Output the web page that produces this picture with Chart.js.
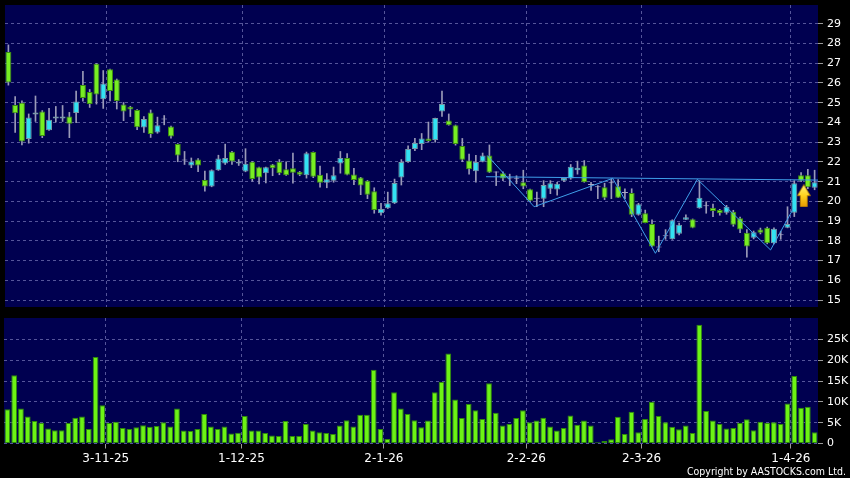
<!DOCTYPE html>
<html>
<head>
<meta charset="utf-8">
<script src="https://cdn.jsdelivr.net/npm/chart.js@4.4.1/dist/chart.umd.min.js"></script>
<style>
  html, body { margin: 0; padding: 0; background: #000; }
  #wrap { position: relative; width: 850px; height: 478px; overflow: hidden; }
  #priceBox { position: absolute; left: 0; top: 0; width: 850px; height: 312px; }
  #volBox { position: absolute; left: 0; top: 312px; width: 850px; height: 166px; }
</style>
</head>
<body>
<div id="wrap">
  <div id="priceBox"><canvas id="priceChart"></canvas></div>
  <div id="volBox"><canvas id="volChart"></canvas></div>
</div>
<script>
// daily bars, oldest first (index 0 .. 119)
const opens = [27.57,24.89,25.00,23.16,24.40,24.55,23.61,24.20,24.20,24.30,
  24.48,25.90,25.54,26.97,25.17,26.69,26.18,24.91,24.80,24.63,
  23.74,24.51,23.49,24.15,23.80,22.91,22.07,21.82,22.12,21.08,
  20.75,21.58,21.92,22.52,21.92,21.51,22.01,21.73,21.43,21.87,
  22.01,21.63,21.68,21.50,21.33,22.50,21.35,20.95,21.05,21.92,
  22.20,21.36,21.21,21.05,20.52,19.40,19.65,19.90,21.21,21.99,
  22.65,22.91,23.19,23.11,24.56,24.10,23.86,22.81,22.07,21.53,
  22.01,22.32,21.46,21.43,21.16,21.15,20.97,20.62,20.14,20.14,
  20.64,20.60,21.05,21.16,21.58,21.82,20.83,20.72,20.72,20.92,
  20.77,20.42,20.42,19.32,19.40,18.86,17.67,18.24,18.08,18.36,
  19.07,19.10,19.65,19.76,19.68,19.56,19.43,19.48,19.15,18.41,
  18.16,18.57,18.66,17.88,18.28,18.66,19.43,21.33,21.33,20.69];
const highs = [27.93,25.31,25.09,24.43,25.34,24.60,24.71,24.81,24.86,24.51,
  25.59,26.59,25.67,26.99,26.63,26.70,26.20,25.01,24.82,24.65,
  24.30,24.63,24.27,24.35,23.82,22.93,22.53,22.20,22.17,21.54,
  21.60,22.34,22.90,22.54,22.12,22.67,22.02,21.74,21.74,21.88,
  22.12,22.01,22.45,21.52,22.50,22.51,21.79,21.41,21.74,22.53,
  22.42,21.68,21.22,21.06,20.69,19.90,20.47,21.13,22.12,22.82,
  23.19,23.44,24.02,24.22,25.59,24.43,23.87,23.19,22.40,22.34,
  22.45,22.86,21.50,21.50,21.38,21.30,21.58,20.63,20.47,21.05,
  21.05,20.97,21.20,21.87,22.04,22.07,20.97,20.80,20.92,21.13,
  21.10,20.64,20.64,19.90,19.56,19.07,18.24,18.57,19.07,18.90,
  19.32,19.11,21.05,19.98,19.87,19.60,19.80,19.55,19.20,18.57,
  18.50,18.65,18.70,18.66,18.49,19.73,21.05,21.46,21.63,21.58];
const lows = [25.89,23.49,22.86,22.95,24.05,23.23,23.60,24.02,24.05,23.23,
  23.99,25.08,24.76,24.93,24.71,25.09,24.68,24.09,24.30,23.64,
  23.49,23.24,23.45,23.88,23.20,22.01,21.87,21.71,21.51,20.52,
  20.74,21.57,21.87,21.87,21.82,21.50,21.02,20.89,20.94,21.30,
  21.35,21.32,20.92,21.30,21.18,21.20,20.72,20.69,20.97,21.43,
  21.34,20.85,20.34,20.14,19.40,19.30,19.64,19.89,20.83,21.98,
  22.57,22.62,23.00,23.00,24.30,23.86,22.85,22.01,21.38,20.97,
  22.00,21.46,20.80,21.05,20.80,20.90,20.64,19.98,19.73,19.73,
  20.39,20.31,21.00,21.12,21.38,20.97,20.55,20.14,20.09,20.14,
  20.19,20.14,19.23,19.30,18.91,17.72,17.45,18.08,18.08,18.30,
  19.07,18.66,19.65,19.40,19.23,19.30,19.35,18.74,18.41,17.17,
  18.10,18.35,17.85,17.85,18.08,18.66,19.23,21.00,20.64,20.59];
const closes = [26.03,24.47,23.03,24.25,24.50,23.31,24.14,24.30,24.30,23.94,
  25.06,25.24,24.93,25.41,25.97,25.59,25.09,24.55,24.65,23.76,
  24.18,23.41,23.86,24.15,23.29,22.32,22.07,22.02,21.82,20.75,
  21.58,22.17,22.20,22.02,22.01,21.91,21.13,21.21,21.73,21.68,
  21.43,21.33,21.45,21.35,22.44,21.25,20.95,21.12,21.33,22.20,
  21.35,21.08,20.80,20.34,19.56,19.61,19.90,20.93,21.99,22.65,
  22.96,23.19,23.06,24.22,24.93,23.86,22.91,22.11,21.63,21.99,
  22.32,21.46,21.46,21.16,21.16,21.15,20.75,20.03,20.14,20.83,
  20.92,20.89,21.18,21.76,21.71,20.97,20.83,20.72,20.19,20.92,
  20.19,20.42,19.32,19.85,18.91,17.72,17.67,18.24,19.04,18.82,
  19.20,18.66,20.19,19.76,19.51,19.40,19.73,18.82,18.57,17.72,
  18.44,18.41,17.88,18.61,18.28,18.86,20.92,21.05,20.72,20.97];
const volumes = [8200,16400,8400,6500,5400,5000,3600,3200,3200,4900,
  6200,6500,3500,20800,9200,4900,5200,3700,3500,3900,
  4400,4000,4200,5100,4100,8400,3100,3000,3500,7100,
  4100,3500,4100,2400,2600,6600,3100,3100,2500,1900,
  1800,5400,1800,1800,4700,3100,2700,2500,2300,4300,
  5600,4100,6900,6900,17700,3500,1100,12300,8400,7100,
  5600,3900,5500,12300,14800,21600,10600,6100,9500,8000,
  5900,14500,7400,4300,4700,6100,8000,5100,5500,6200,
  4100,3100,3700,6700,4500,5500,4300,300,600,1000,
  6400,2300,7600,2700,5900,10000,6600,5100,4000,3400,
  4300,2500,28500,7800,5500,4700,3600,3700,4900,5800,
  3200,5200,4900,5100,4700,9600,16200,8600,8800,2700];

// month starts on the time axis (bar index) and their labels
const monthIdx = [15, 35, 56, 77, 94, 116];
const monthLabels = ['3-11-25', '1-12-25', '2-1-26', '2-2-26', '2-3-26', '1-4-26'];
const priceTicks = [15,16,17,18,19,20,21,22,23,24,25,26,27,28,29];
const volTicks = [0, 5000, 10000, 15000, 20000, 25000];

// drawn pattern lines (bar index, price)
const necklineX = [70.5, 119.5];
const necklineY = [21.25, 21.08];
const zigzagX = [70.7, 77.6, 89.2, 95.5, 101.7, 112.5, 115.8];
const zigzagY = [22.32, 19.73, 21.17, 17.37, 21.12, 17.54, 19.6];
const arrowAt = { x: 117.4, y: 20.29 };

const copyright = 'Copyright by AASTOCKS.com Ltd.';

const navy = '#000050';
const gridColor = '#55559a';
const upFill = '#33e2f2', upEdge = '#7898a8';
const downFill = '#77ee22', downEdge = '#3d8f10';
const dojiFill = '#a8a8c8';
const wickColor = '#9a9ab8';
const lineColor = '#3f9fea';
const labelFont = { family: 'DejaVu Sans', size: 11 };

const bodies = opens.map((o, i) => ({ x: i, y: [o, closes[i]] }));
const wicks = lows.map((l, i) => ({ x: i, y: [l, highs[i]] }));
const bodyFill = opens.map((o, i) => closes[i] > o ? upFill : closes[i] < o ? downFill : dojiFill);
const bodyEdge = opens.map((o, i) => closes[i] > o ? upEdge : closes[i] < o ? downEdge : dojiFill);
const volData = volumes.map((v, i) => ({ x: i, y: v }));
const neckline = necklineX.map((x, i) => ({ x: x, y: necklineY[i] }));
const zigzag = zigzagX.map((x, i) => ({ x: x, y: zigzagY[i] }));

function makeArrow() {
    const c = document.createElement('canvas');
    c.width = 14; c.height = 23;
    const g = c.getContext('2d');
    const grad = g.createLinearGradient(0, 0, 0, 23);
    grad.addColorStop(0, '#fff67a');
    grad.addColorStop(0.5, '#ffd21e');
    grad.addColorStop(1, '#e39600');
    g.fillStyle = grad;
    g.strokeStyle = '#b87a00';
    g.lineWidth = 0.8;
    g.beginPath();
    g.moveTo(7, 0.5);
    g.lineTo(13.5, 11.5);
    g.lineTo(10.5, 11.5);
    g.lineTo(10.5, 22.5);
    g.lineTo(3.5, 22.5);
    g.lineTo(3.5, 11.5);
    g.lineTo(0.5, 11.5);
    g.closePath();
    g.fill();
    g.stroke();
    return c;
}

const plotBg = {
    id: 'plotBg',
    beforeDraw(chart) {
        const { ctx, chartArea: a } = chart;
        ctx.save();
        ctx.fillStyle = navy;
        ctx.fillRect(a.left, a.top, a.right - a.left, a.bottom - a.top);
        ctx.restore();
    }
};

const copyrightText = {
    id: 'copyrightText',
    afterDraw(chart) {
        const ctx = chart.ctx;
        ctx.save();
        ctx.font = '11px "DejaVu Sans"';
        ctx.fillStyle = '#ffffff';
        ctx.textAlign = 'right';
        ctx.textBaseline = 'middle';
        ctx.fillText(copyright, 846, 160, 159);
        ctx.restore();
    }
};

function timeAxis(withLabels) {
    return {
        type: 'linear',
        min: -0.5,
        max: 119.5,
        offset: false,
        afterBuildTicks: s => { s.ticks = monthIdx.map(v => ({ value: v - 0.5 })); },
        afterFit: s => {
            s.height = withLabels ? 22 : 0;
            s.paddingLeft = 0;
            s.paddingRight = 0;
        },
        grid: { color: gridColor, offset: false, drawTicks: withLabels, tickLength: 5, tickColor: '#9a9a9a' },
        border: { display: false, dash: [3, 3] },
        ticks: {
            display: withLabels,
            autoSkip: false,
            maxRotation: 0,
            padding: 3,
            color: '#ffffff',
            font: { family: 'DejaVu Sans', size: 12 },
            callback: (v, i) => monthLabels[i]
        }
    };
}

function valueAxis(tickList, min, max, fmt) {
    return {
        position: 'right',
        min: min,
        max: max,
        afterBuildTicks: s => { s.ticks = tickList.map(v => ({ value: v })); },
        afterFit: s => {
            s.width = 32;
            s.paddingTop = 0;
            s.paddingBottom = 0;
        },
        grid: { color: gridColor, tickLength: 5, tickColor: '#9a9a9a' },
        border: { display: false, dash: [3, 3] },
        ticks: { autoSkip: false, padding: 4, color: '#ffffff', font: labelFont, callback: fmt }
    };
}

new Chart(document.getElementById('priceChart'), {
    type: 'bar',
    data: {
        datasets: [
            { type: 'scatter', data: [arrowAt], pointStyle: makeArrow(), order: 0 },
            { type: 'line', data: neckline, borderColor: lineColor, borderWidth: 1, pointRadius: 0, order: 1 },
            { type: 'line', data: zigzag, borderColor: lineColor, borderWidth: 1, pointRadius: 0, order: 1 },
            {
                data: bodies, backgroundColor: bodyFill, borderColor: bodyEdge, borderWidth: 1,
                borderSkipped: false, grouped: false, categoryPercentage: 1, barPercentage: 0.88,
                minBarLength: 1, order: 2
            },
            { data: wicks, backgroundColor: wickColor, barThickness: 1, grouped: false, order: 3 }
        ]
    },
    options: {
        responsive: true,
        maintainAspectRatio: false,
        animation: false,
        devicePixelRatio: 1,
        layout: { padding: { left: 4, top: 1, right: 0, bottom: 2 } },
        plugins: { legend: { display: false }, tooltip: { enabled: false } },
        scales: {
            x: timeAxis(false),
            y: valueAxis(priceTicks, 14.65, 29.95, v => String(v))
        }
    },
    plugins: [plotBg]
});

new Chart(document.getElementById('volChart'), {
    type: 'bar',
    data: {
        datasets: [{
            data: volData, backgroundColor: '#6cf314', borderColor: '#2f8a0a', borderWidth: 1,
            borderSkipped: false, categoryPercentage: 1, barPercentage: 0.85
        }]
    },
    options: {
        responsive: true,
        maintainAspectRatio: false,
        animation: false,
        devicePixelRatio: 1,
        layout: { padding: { left: 4, top: 6, right: 0, bottom: 12.5 } },
        plugins: { legend: { display: false }, tooltip: { enabled: false } },
        scales: {
            x: timeAxis(true),
            y: valueAxis(volTicks, 0, 30150, v => v === 0 ? '0' : (v / 1000) + 'K')
        }
    },
    plugins: [plotBg, copyrightText]
});
</script>
</body>
</html>
